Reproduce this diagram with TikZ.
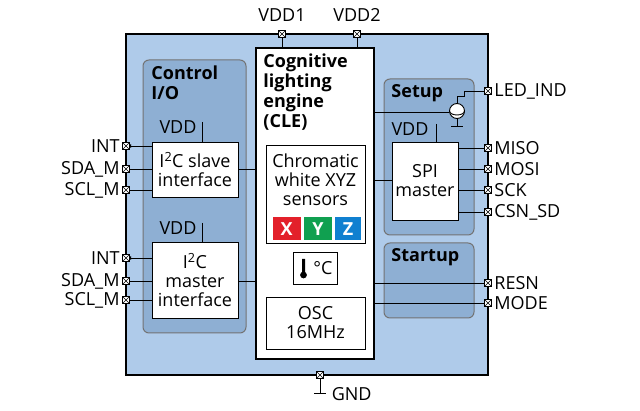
\documentclass[tikz,border=0pt]{standalone}
\usepackage{fontspec}
\setmainfont{Open Sans}
\usetikzlibrary{arrows.meta}
\definecolor{outerb}{HTML}{AFCBEA}
\definecolor{innerb}{HTML}{8EAFD3}
\definecolor{xr}{HTML}{E3202A}
\definecolor{yg}{HTML}{10A050}
\definecolor{zb}{HTML}{1080D0}
\begin{document}
\begin{tikzpicture}[x=1pt,y=-1pt,line width=0.9pt,
  font=\fontsize{18}{19}\selectfont,
  pin/.pic={\draw[fill=white,line width=0.6pt] (-3.5,-3.5) rectangle (3.5,3.5) (-3.5,-3.5)--(3.5,3.5) (-3.5,3.5)--(3.5,-3.5);},
  grp/.style={draw=black!55,fill=innerb,rounded corners=6pt,line width=1pt},
  wbox/.style={draw,fill=white,align=center,inner sep=0pt},
  lbl/.style={inner sep=1pt},
  ttl/.style={font=\fontsize{18}{20}\selectfont\bfseries,align=left,anchor=north west,inner sep=0pt}]
\useasboundingbox (0,0) rectangle (640,411);
\draw[line width=1.6pt,fill=outerb] (126,34) rectangle (488,375);
% groups
\draw[grp] (143,60) rectangle (246,333);
\node[ttl] (ctl) at (151,65) {Control\\I/O};
\draw[grp] (384,79) rectangle (474,235);
\node[ttl] (setup) at (391,84) {Setup};
\draw[grp] (384,243) rectangle (474,318);
\node[ttl] (startup) at (391,248) {Startup};
% CLE
\draw[line width=1.6pt,fill=white] (256,48) rectangle (374,359);
\node[ttl] (cle) at (263,53) {Cognitive\\lighting\\engine\\(CLE)};
\node[wbox,minimum width=99pt,minimum height=98pt] (chrom) at (315.5,194) {};
\node[align=center,inner sep=0pt] (chromt) at (315.5,180) {Chromatic\\white XYZ\\sensors};
\node[fill=xr,text=white,font=\fontsize{18}{19}\selectfont\bfseries,minimum width=28pt,minimum height=23pt,inner sep=0pt] (X) at (286.5,229) {X};
\node[fill=yg,text=white,font=\fontsize{18}{19}\selectfont\bfseries,minimum width=28pt,minimum height=23pt,inner sep=0pt] (Y) at (318,229) {Y};
\node[fill=zb,text=white,font=\fontsize{18}{19}\selectfont\bfseries,minimum width=26pt,minimum height=23pt,inner sep=0pt] (Z) at (348,229) {Z};
\node[wbox,minimum width=44pt,minimum height=32pt] (therm) at (315,268) {};
\fill (302,259) rectangle (305,272) (303.5,275) circle (3.4);
\node[inner sep=0pt] (degc) at (323,268) {°C};
\node[wbox,minimum width=99pt,minimum height=52pt] (osc) at (315.5,323) {OSC\\16MHz};
% I2C boxes
\node[wbox,minimum width=86pt,minimum height=55pt] (slave) at (195,169.5) {I\textsuperscript{2}C slave\\interface};
\node[wbox,minimum width=86pt,minimum height=76pt] (master) at (195,280) {I\textsuperscript{2}C\\master\\interface};
\node[lbl] (vdd1l) at (178,127) {VDD};
\node[lbl] (vdd2l) at (178,228) {VDD};
\draw (202,122)--(slave.north -| 202,0);
\draw (202,223)--(master.north -| 202,0);
% SPI
\node[wbox,minimum width=66pt,minimum height=78pt] (spi) at (425,181) {SPI\\master};
\node[lbl] (vdd3l) at (410,129) {VDD};
\draw (436,124)--(spi.north -| 436,0);
% pins top / bottom
\coordinate (pv1) at (282,34); \coordinate (pv2) at (357,34); \coordinate (pg) at (320,375);
\node (tv1) at (282,15) {VDD1};
\node (tv2) at (357,15) {VDD2};
\draw (pv1)--(282,48) (pv2)--(357,48);
\draw (pg)--(320,393) (314,393)--(326,393);
\node[anchor=west] (gnd) at (328,394) {GND};
% left pins
\foreach \y/\t/\n in {146/INT/a,169/SDA\_M/b,190/SCL\_M/c,258/INT/d,281/SDA\_M/e,300/SCL\_M/f}{
  \coordinate (L\n) at (126,\y);
  \node[anchor=east,inner sep=1pt] (Lt\n) at (121,\y) {\t};
}
\draw[-{Latex[length=5pt]}] (slave.west |- La) -- (La);
\draw (Lb) -- (slave.west |- Lb) (Lc) -- (slave.west |- Lc);
\draw[-{Latex[length=5pt]}] (master.west |- Ld) -- (Ld);
\draw (Le) -- (master.west |- Le) (Lf) -- (master.west |- Lf);
\draw (slave.east |- 0,169) -- (256,169);
\draw (master.east |- 0,281) -- (256,281);
% right pins
\foreach \y/\t/\n in {91/LED\_IND/a,148/MISO/b,169/MOSI/c,190/SCK/d,212/CSN\_SD/e,283/RESN/f,303/MODE/g}{
  \coordinate (R\n) at (488,\y);
  \node[anchor=west,inner sep=1pt] (Rt\n) at (493,\y) {\t};
}
\foreach \n in {b,c,d,e}{\draw (spi.east |- R\n) -- (R\n);}
\draw (374,283) -- (Rf) (374,303) -- (Rg);
\draw (374,180) -- (spi.west |- 0,180);
% current source
\node[draw,circle,minimum size=15pt,inner sep=0pt,fill=white] (cs) at (457,111) {};
\draw (cs.north)--(457,96)--(464,96)--(464,91)--(Ra);
\draw (374,112)--(cs.west |- 0,112);
\draw (449.5,111) arc (180:0:7.5 and 4);
\draw (cs.south)--(457,126) (451,126)--(463,126);
% pin symbols
\foreach \p in {pv1,pv2,pg,La,Lb,Lc,Ld,Le,Lf,Ra,Rb,Rc,Rd,Re,Rf,Rg}{\pic at (\p) {pin};}
\end{tikzpicture}
\end{document}
